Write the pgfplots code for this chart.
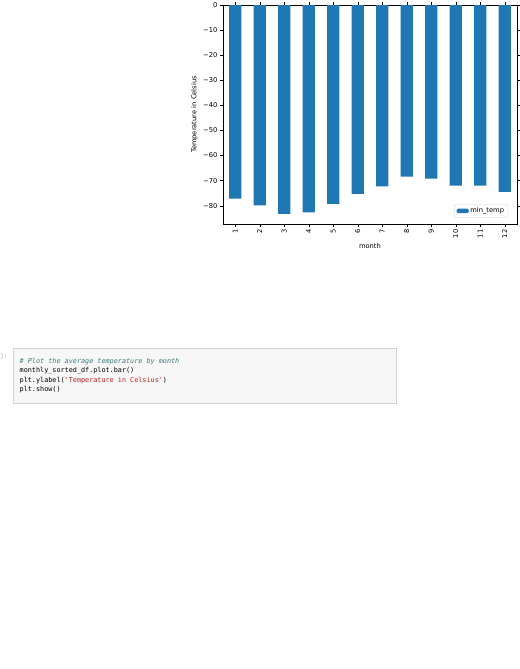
\documentclass[border=0pt]{standalone}
\usepackage{pgfplots}
\pgfplotsset{compat=1.18}
\usepackage{fontspec}
\setmainfont{DejaVu Sans}
\newfontfamily\mono{DejaVu Sans Mono}
\definecolor{mplblue}{HTML}{1F77B4}
\definecolor{cmt}{HTML}{3D7A7A}
\definecolor{str}{HTML}{BA2121}
\begin{document}
\begin{tikzpicture}[x=0.75pt,y=-0.75pt]
\path (0,0) rectangle (669,545);
\fill[gray!6] (22,4) rectangle (669,96);
\draw[gray!35] (22,4) rectangle (669,96);
\node[anchor=west,text=gray!70,font=\mono\fontsize{8}{9}\selectfont,inner sep=0] at (0,18) {]:};
\begin{scope}[every node/.style={anchor=west,inner sep=0,font=\mono\fontsize{8.6}{10}\selectfont}]
\node[text=cmt] at (33,26) {\itshape\# Plot the average temperature by month};
\node at (33,42) {monthly\_sorted\_df.plot.bar()};
\node at (33,58) {plt.ylabel(\textcolor{str}{'Temperature in Celsius'})};
\node at (33,74) {plt.show()};
\end{scope}
\begin{axis}[at={(91,487)},anchor=south west,scale only axis,
 width=372pt,height=276.75pt,
 xmin=0.5,xmax=12.5,ymin=-87.3,ymax=0,
 xtick={1,...,12},ytick={-80,-70,-60,-50,-40,-30,-20,-10,0},
 yticklabels={−80,−70,−60,−50,−40,−30,−20,−10,0},
 xticklabels={1,2,3,4,5,6,7,8,9,10,11,12},
 xticklabel style={rotate=90,anchor=east},
 tick align=outside,tick style={black},
 major tick length=3.5pt,
 ticklabel style={font=\fontsize{8.5}{10}\selectfont},
 label style={font=\fontsize{8.5}{10}\selectfont},
 xlabel={month},ylabel={Temperature in Celsius},
 legend pos=south east,legend cell align=left,
 legend style={font=\fontsize{8.5}{10}\selectfont,draw=gray!40,rounded corners=2pt},
 legend image code/.code={\fill[mplblue] (0cm,-0.1cm) rectangle (0.55cm,0.1cm);}]
\addplot[ybar,bar width=0.5,fill=mplblue,draw=none] coordinates {
(1,-77.2)(2,-79.9)(3,-83.3)(4,-82.7)(5,-79.3)(6,-75.3)(7,-72.3)(8,-68.4)(9,-69.2)(10,-72.0)(11,-72.0)(12,-74.5)};
\addlegendentry{min\_temp}
\end{axis}
\end{tikzpicture}
\end{document}
